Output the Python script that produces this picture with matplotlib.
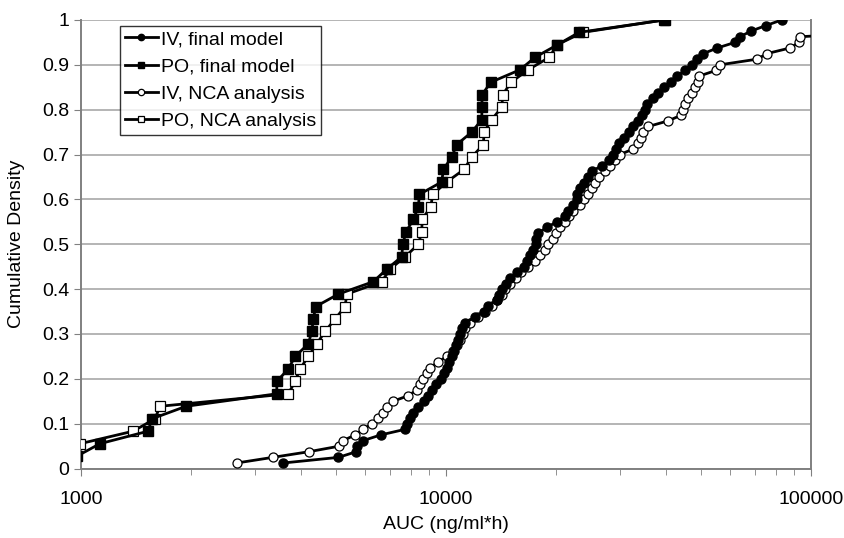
import matplotlib
matplotlib.use("Agg")
import matplotlib.pyplot as plt
from matplotlib.ticker import FixedLocator, LogLocator, NullFormatter
import numpy as np

plt.rcParams['font.family'] = ['Liberation Sans', 'DejaVu Sans']

# AUC values (ng/ml*h), sorted; cumulative density is rank / n
iv_final_auc = [3580, 5070, 5670, 5710, 5930, 6620, 7720, 7800, 7970, 8140,
                8400, 8700, 8940, 9140, 9390, 9670, 9870, 10040, 10210, 10380,
                10540, 10670, 10810, 10940, 11080, 11270, 12010, 12710, 13060, 13770,
                14000, 14230, 14600, 14970, 15620, 16360, 16670, 16990, 17350, 17610,
                17650, 17900, 18880, 20110, 21180, 21630, 22330, 22810, 22890, 23280,
                23880, 24450, 25070, 26710, 28020, 28740, 29170, 29840, 30740, 31780,
                32600, 33640, 34370, 35090, 35610, 36840, 38160, 39560, 41270, 43020,
                45160, 47110, 48800, 50690, 55390, 61920, 63910, 68350, 75290, 83110]

po_final_auc = [975, 1127, 1526, 1565, 1940, 3437, 3440, 3698, 3858, 4195,
                4286, 4330, 4395, 5069, 6322, 6879, 7562, 7611, 7771, 8137,
                8398, 8451, 9732, 9831, 10366, 10698, 11763, 12528, 12540, 12550,
                13264, 15950, 17530, 20180, 23140, 39810]

iv_nca_auc = [2670, 3350, 4200, 5100, 5230, 5630, 5930, 6260, 6520, 6710,
              6880, 7150, 7880, 8310, 8490, 8670, 8890, 9040, 9530, 10040,
              10470, 10700, 10920, 11150, 11270, 11630, 12260, 12790, 13350, 13820,
              14210, 14510, 14970, 15550, 16020, 16810, 17530, 18090, 18670, 19070,
              19600, 20020, 20530, 21180, 21770, 22330, 23280, 23880, 24550, 25070,
              25600, 26260, 27270, 28140, 29040, 29970, 32600, 33640, 34210, 34710,
              35840, 40570, 44040, 44600, 45020, 46030, 47060, 48090, 49010, 49430,
              54930, 56330, 71140, 75770, 87610, 92710, 93300, 181000, 256000, 351000]

po_nca_auc = [800, 995, 1389, 1595, 1646, 3698, 3858, 3981, 4195, 4423,
              4661, 4966, 5288, 5346, 6665, 7025, 7722, 8398, 8580, 8600,
              9080, 9195, 10045, 11200, 11763, 12655, 12711, 13346, 14210, 14300,
              15070, 16780, 19190, 20140, 23690, 39560]

labels = ['IV, final model', 'PO, final model', 'IV, NCA analysis', 'PO, NCA analysis']


def cum_density(values):
    n = len(values)
    return np.arange(1, n + 1) / n


fig = plt.figure(figsize=(8.44, 5.38), dpi=100)
ax = fig.add_axes([0.096, 0.129, 0.865, 0.834])

ax.plot(iv_final_auc, cum_density(iv_final_auc), color='black', lw=2.0,
        marker='o', ms=6.5, mfc='black', mec='black', label=labels[0], zorder=4)
ax.plot(po_final_auc, cum_density(po_final_auc), color='black', lw=2.0,
        marker='s', ms=6.5, mfc='black', mec='black', label=labels[1], zorder=4)
ax.plot(iv_nca_auc, cum_density(iv_nca_auc), color='black', lw=2.0,
        marker='o', ms=6.5, mfc='white', mec='black', mew=0.9, label=labels[2], zorder=3)
ax.plot(po_nca_auc, cum_density(po_nca_auc), color='black', lw=2.0,
        marker='s', ms=6.5, mfc='white', mec='black', mew=0.9, label=labels[3], zorder=3)

ax.set_xscale('log')
ax.set_xlim(1000, 100000)
ax.set_ylim(0, 1)
ax.set_yticks(np.arange(0, 1.01, 0.1))
ax.set_yticklabels(['0', '0.1', '0.2', '0.3', '0.4', '0.5', '0.6', '0.7', '0.8', '0.9', '1'])
ax.xaxis.set_major_locator(FixedLocator([1000, 10000, 100000]))
ax.set_xticklabels(['1000', '10000', '100000'])
ax.xaxis.set_minor_locator(LogLocator(base=10, subs=np.arange(2, 10)))
ax.xaxis.set_minor_formatter(NullFormatter())

ax.grid(axis='y', color='#b4b4b4', lw=1.4)
ax.set_axisbelow(True)
ax.tick_params(axis='both', which='major', labelsize=14, direction='out', length=5,
               color='#808080')
ax.tick_params(axis='x', which='minor', direction='out', length=4, color='#808080')
ax.tick_params(axis='x', pad=11)

for side in ['left', 'bottom', 'right']:
    ax.spines[side].set_color('#808080')
    ax.spines[side].set_linewidth(1.4)
ax.spines['top'].set_visible(False)

ax.set_xlabel('AUC (ng/ml*h)', fontsize=14, labelpad=6)
ax.set_ylabel('Cumulative Density', fontsize=14, labelpad=12)

leg = ax.legend(loc='upper left', bbox_to_anchor=(0.053, 0.987), borderaxespad=0,
                fontsize=14, frameon=True, fancybox=False, edgecolor='black',
                handlelength=1.7, handletextpad=0.15, borderpad=0.25,
                labelspacing=0.5, markerscale=0.7)
leg.get_frame().set_linewidth(1.0)

fig.savefig('out.png', dpi=100)
